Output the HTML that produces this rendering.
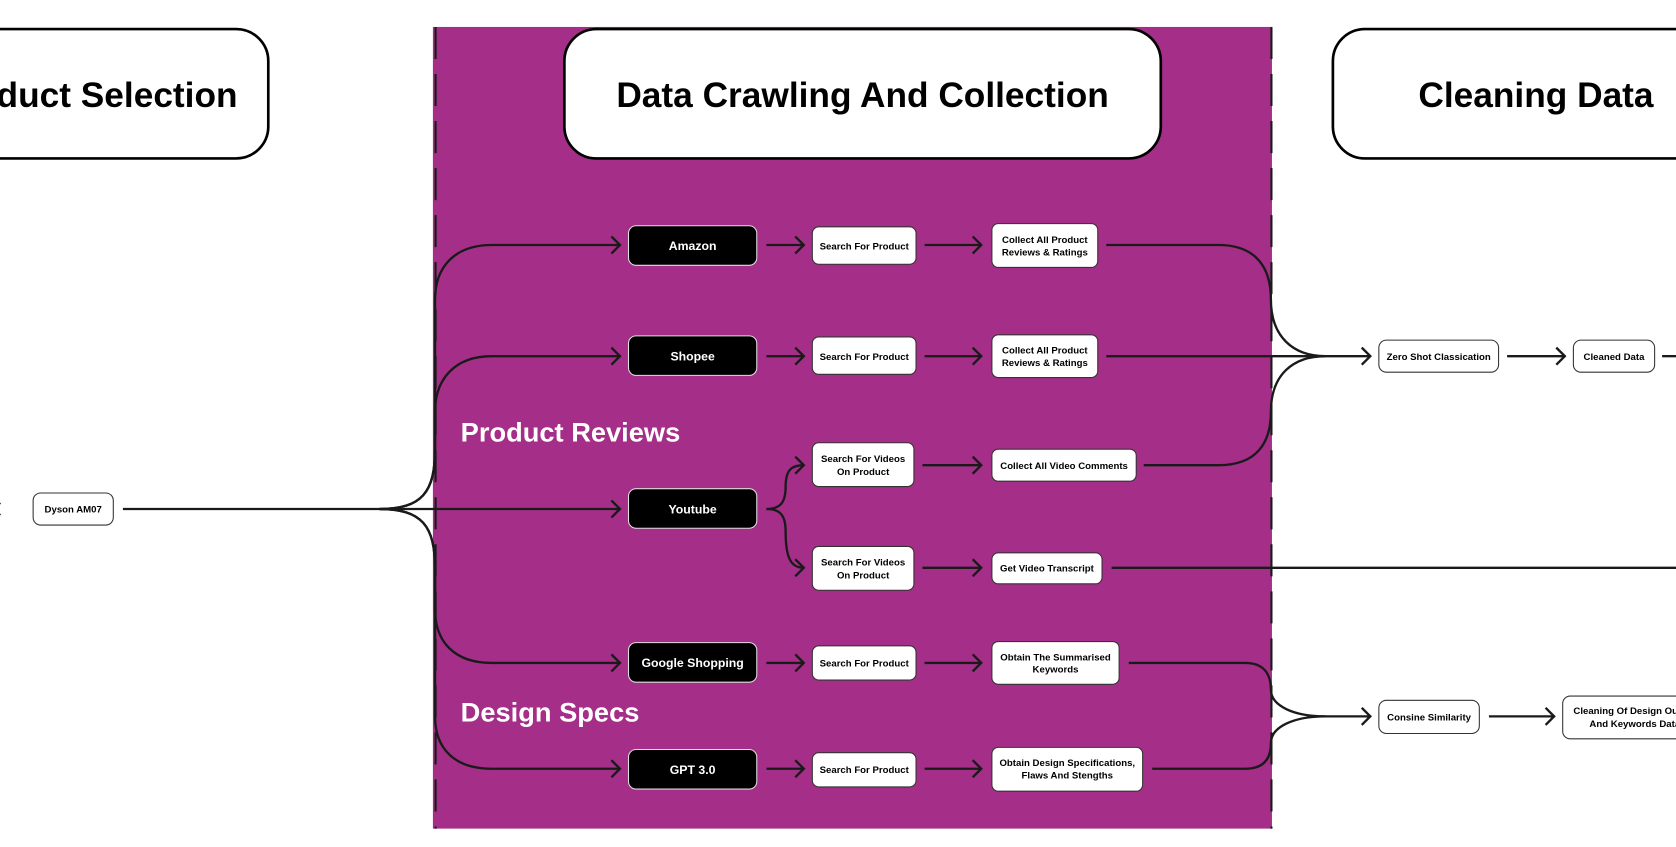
<!DOCTYPE html>
<html><head><meta charset="utf-8"><style>
html,body{margin:0;padding:0;background:#fff;overflow:hidden}
svg{display:block}
text{font-family:"Liberation Sans",sans-serif}
.h{font-size:33px;font-weight:bold;fill:#000;text-anchor:middle}
.b{font-size:11.5px;fill:#fff;text-anchor:middle;font-weight:bold}
.w{font-size:9px;fill:#000;text-anchor:middle;font-weight:bold}
.s{font-size:25.5px;font-weight:bold;fill:#fff}
.ln{fill:none;stroke:#1a1a1a;stroke-width:2.2}
.wn{fill:#fff;stroke:#333;stroke-width:1}
.bn{fill:#000;stroke:#ddd;stroke-width:1}
</style></head><body>
<svg width="1676" height="847" viewBox="0 0 1568 792" xmlns="http://www.w3.org/2000/svg">
<defs>
<marker id="a" markerWidth="14" markerHeight="20" refX="11" refY="10" orient="auto" markerUnits="userSpaceOnUse">
<path d="M3,2 L11,10 L3,18" fill="none" stroke="#1a1a1a" stroke-width="2.2"/>
</marker>
</defs>
<rect x="405" y="25" width="785" height="750" fill="#A52F88"/>
<line x1="407.5" y1="25" x2="407.5" y2="775" stroke="#1a1a1a" stroke-width="2" stroke-dasharray="30,14"/>
<line x1="1189.5" y1="25" x2="1189.5" y2="775" stroke="#1a1a1a" stroke-width="2" stroke-dasharray="30,14"/>

<rect x="-60" y="27" width="311" height="121" rx="30" fill="#fff" stroke="#000" stroke-width="2.5"/>
<text class="h" x="82" y="100">Product Selection</text>
<rect x="528" y="27" width="558" height="121" rx="30" fill="#fff" stroke="#000" stroke-width="2.5"/>
<text class="h" x="807" y="100">Data Crawling And Collection</text>
<rect x="1247" y="27" width="380" height="121" rx="30" fill="#fff" stroke="#000" stroke-width="2.5"/>
<text class="h" x="1437" y="100">Cleaning Data</text>

<text class="s" x="431" y="413">Product Reviews</text>
<text class="s" x="431" y="675">Design Specs</text>

<path d="M0,470 L-4,476 L0,482" class="ln"/>
<path class="ln" d="M115,476 H580" marker-end="url(#a)"/>
<path class="ln" d="M355,476 C395,476 407,460 407,420 V280 C407,250 425,229 460,229 H580" marker-end="url(#a)"/>
<path class="ln" d="M355,476 C395,476 407,460 407,420 V385 C407,355 425,333 460,333 H580" marker-end="url(#a)"/>
<path class="ln" d="M355,476 C395,476 407,492 407,532 V570 C407,600 425,620 460,620 H580" marker-end="url(#a)"/>
<path class="ln" d="M355,476 C395,476 407,492 407,532 V670 C407,700 425,719 460,719 H580" marker-end="url(#a)"/>

<path class="ln" d="M717,229 H752" marker-end="url(#a)"/>
<path class="ln" d="M865,229 H918" marker-end="url(#a)"/>
<path class="ln" d="M717,333 H752" marker-end="url(#a)"/>
<path class="ln" d="M865,333 H918" marker-end="url(#a)"/>
<path class="ln" d="M717,476 C730,476 735,470 735,455 C735,440 740,435 752,435" marker-end="url(#a)"/>
<path class="ln" d="M717,476 C730,476 735,482 735,497 C735,522 740,531 752,531" marker-end="url(#a)"/>
<path class="ln" d="M863,435 H918" marker-end="url(#a)"/>
<path class="ln" d="M863,531 H918" marker-end="url(#a)"/>
<path class="ln" d="M717,620 H752" marker-end="url(#a)"/>
<path class="ln" d="M865,620 H918" marker-end="url(#a)"/>
<path class="ln" d="M717,719 H752" marker-end="url(#a)"/>
<path class="ln" d="M865,719 H918" marker-end="url(#a)"/>

<path class="ln" d="M1035,229 H1140 C1175,229 1189,250 1189,280 C1189,315 1210,333 1240,333"/>
<path class="ln" d="M1035,333 H1282" marker-end="url(#a)"/>
<path class="ln" d="M1070,435 H1140 C1175,435 1189,415 1189,385 C1189,350 1210,333 1240,333"/>
<path class="ln" d="M1040,531 H1568"/>
<path class="ln" d="M1056,620 H1165 C1182,620 1189,630 1189,645 C1189,660 1210,670 1240,670"/>
<path class="ln" d="M1078,719 H1165 C1182,719 1189,710 1189,695 C1189,680 1210,670 1240,670 H1282" marker-end="url(#a)"/>
<path class="ln" d="M1410,333 H1464" marker-end="url(#a)"/>
<path class="ln" d="M1555,333 H1568"/>
<path class="ln" d="M1393,670 H1454" marker-end="url(#a)"/>

<rect class="bn" x="588" y="211" width="120" height="37" rx="7"/><text class="b" x="648" y="233.5">Amazon</text>
<rect class="bn" x="588" y="314" width="120" height="37" rx="7"/><text class="b" x="648" y="337">Shopee</text>
<rect class="bn" x="588" y="457" width="120" height="37" rx="7"/><text class="b" x="648" y="480">Youtube</text>
<rect class="bn" x="588" y="601" width="120" height="37" rx="7"/><text class="b" x="648" y="624">Google Shopping</text>
<rect class="bn" x="588" y="701" width="120" height="37" rx="7"/><text class="b" x="648" y="724">GPT 3.0</text>

<rect class="wn" x="31" y="461" width="75" height="30" rx="7"/><text class="w" x="68.5" y="479.5">Dyson AM07</text>

<rect class="wn" x="760" y="212" width="97" height="35" rx="6"/><text class="w" x="808.5" y="233">Search For Product</text>
<rect class="wn" x="928" y="209" width="99" height="41" rx="6"/><text class="w" x="977.5" y="227">Collect All Product</text><text class="w" x="977.5" y="239">Reviews &amp; Ratings</text>
<rect class="wn" x="760" y="315" width="97" height="35" rx="6"/><text class="w" x="808.5" y="336.5">Search For Product</text>
<rect class="wn" x="928" y="313" width="99" height="40" rx="6"/><text class="w" x="977.5" y="330.5">Collect All Product</text><text class="w" x="977.5" y="342">Reviews &amp; Ratings</text>
<rect class="wn" x="760" y="414" width="95" height="41" rx="6"/><text class="w" x="807.5" y="432">Search For Videos</text><text class="w" x="807.5" y="444">On Product</text>
<rect class="wn" x="928" y="420" width="135" height="30" rx="6"/><text class="w" x="995.5" y="438.5">Collect All Video Comments</text>
<rect class="wn" x="760" y="511" width="95" height="41" rx="6"/><text class="w" x="807.5" y="529">Search For Videos</text><text class="w" x="807.5" y="541">On Product</text>
<rect class="wn" x="928" y="517" width="103" height="29" rx="6"/><text class="w" x="979.5" y="534.5">Get Video Transcript</text>
<rect class="wn" x="760" y="604" width="97" height="32" rx="6"/><text class="w" x="808.5" y="623.5">Search For Product</text>
<rect class="wn" x="928" y="600" width="119" height="40" rx="6"/><text class="w" x="987.5" y="617.5">Obtain The Summarised</text><text class="w" x="987.5" y="629">Keywords</text>
<rect class="wn" x="760" y="704" width="97" height="32" rx="6"/><text class="w" x="808.5" y="723">Search For Product</text>
<rect class="wn" x="928" y="699" width="141" height="41" rx="6"/><text class="w" x="998.5" y="716.5">Obtain Design Specifications,</text><text class="w" x="998.5" y="728">Flaws And Stengths</text>

<rect class="wn" x="1290" y="318" width="112" height="30" rx="7"/><text class="w" x="1346" y="336.5">Zero Shot Classication</text>
<rect class="wn" x="1472" y="318" width="76" height="30" rx="7"/><text class="w" x="1510" y="336.5">Cleaned Data</text>
<rect class="wn" x="1290" y="655" width="94" height="31" rx="7"/><text class="w" x="1337" y="674">Consine Similarity</text>
<rect class="wn" x="1462" y="651" width="150" height="40" rx="7"/><text class="w" x="1472" y="668" style="text-anchor:start">Cleaning Of Design Outputs</text><text class="w" x="1487" y="680" style="text-anchor:start">And Keywords Data</text>
</svg>
</body></html>
